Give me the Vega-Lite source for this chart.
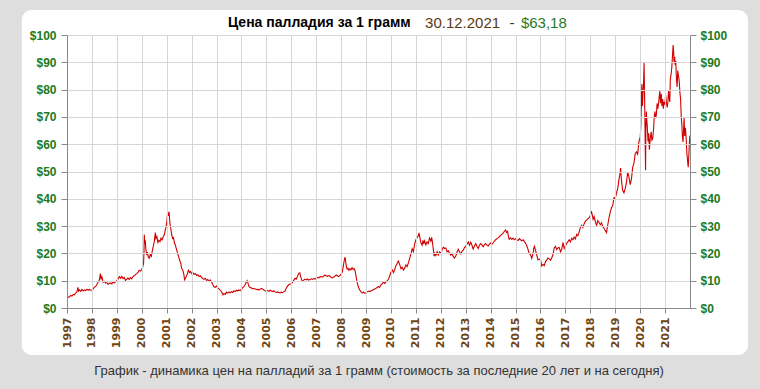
{
  "$schema": "https://vega.github.io/schema/vega-lite/v6.json",
  "width": 623,
  "height": 273,
  "autosize": {"type": "none"},
  "padding": {"left": 67, "top": 35, "right": 70, "bottom": 81},
  "background": "#dedede",
  "config": {
    "view": {"stroke": null},
    "axis": {"tickColor": "#8a8a8a", "domainColor": "#8a8a8a", "gridColor": "#d6d6d6"}
  },
  "datasets": {
    "pd": [
      {"d":"1997-01-02","v":3.6},{"d":"1997-01-20","v":3.9},{"d":"1997-02-07","v":4.1},{"d":"1997-02-25","v":4.6},{"d":"1997-03-15","v":4.4},{"d":"1997-04-02","v":5.0},{"d":"1997-04-20","v":4.8},{"d":"1997-05-08","v":5.5},{"d":"1997-05-27","v":6.0},{"d":"1997-06-10","v":7.6},{"d":"1997-06-20","v":6.2},{"d":"1997-07-02","v":6.6},{"d":"1997-07-20","v":6.1},{"d":"1997-08-08","v":6.8},{"d":"1997-08-26","v":6.3},{"d":"1997-09-13","v":6.6},{"d":"1997-10-01","v":6.4},{"d":"1997-10-20","v":6.9},{"d":"1997-11-07","v":6.5},{"d":"1997-11-25","v":6.8},{"d":"1997-12-14","v":6.5},
      {"d":"1998-01-02","v":6.6},{"d":"1998-01-20","v":7.0},{"d":"1998-02-07","v":7.6},{"d":"1998-02-25","v":7.9},{"d":"1998-03-15","v":8.6},{"d":"1998-04-02","v":9.5},{"d":"1998-04-20","v":10.2},{"d":"1998-05-05","v":12.6},{"d":"1998-05-15","v":10.5},{"d":"1998-05-27","v":11.4},{"d":"1998-06-14","v":9.4},{"d":"1998-07-02","v":9.8},{"d":"1998-07-20","v":9.1},{"d":"1998-08-08","v":9.3},{"d":"1998-08-26","v":8.7},{"d":"1998-09-13","v":9.0},{"d":"1998-10-01","v":9.2},{"d":"1998-10-20","v":8.8},{"d":"1998-11-07","v":9.5},{"d":"1998-11-25","v":9.2},{"d":"1998-12-14","v":9.6},
      {"d":"1999-01-02","v":10.0},{"d":"1999-01-20","v":10.6},{"d":"1999-02-07","v":11.5},{"d":"1999-02-25","v":10.9},{"d":"1999-03-15","v":11.6},{"d":"1999-04-02","v":10.8},{"d":"1999-04-20","v":11.2},{"d":"1999-05-08","v":10.1},{"d":"1999-05-27","v":10.6},{"d":"1999-06-14","v":11.0},{"d":"1999-07-02","v":10.4},{"d":"1999-07-20","v":11.1},{"d":"1999-08-08","v":10.7},{"d":"1999-08-26","v":11.5},{"d":"1999-09-13","v":11.8},{"d":"1999-10-01","v":12.2},{"d":"1999-10-20","v":12.6},{"d":"1999-11-07","v":13.0},{"d":"1999-11-25","v":13.8},{"d":"1999-12-14","v":13.5},
      {"d":"2000-01-02","v":14.1},{"d":"2000-01-15","v":15.0},{"d":"2000-01-28","v":16.3},{"d":"2000-02-04","v":21.0},{"d":"2000-02-08","v":26.8},{"d":"2000-02-14","v":23.5},{"d":"2000-02-22","v":24.8},{"d":"2000-03-02","v":21.5},{"d":"2000-03-14","v":19.4},{"d":"2000-03-25","v":20.5},{"d":"2000-04-05","v":18.7},{"d":"2000-04-20","v":18.2},{"d":"2000-05-05","v":19.6},{"d":"2000-05-20","v":18.9},{"d":"2000-06-05","v":21.0},{"d":"2000-06-20","v":22.8},{"d":"2000-07-05","v":24.5},{"d":"2000-07-18","v":27.6},{"d":"2000-07-28","v":25.5},{"d":"2000-08-10","v":26.2},{"d":"2000-08-25","v":24.0},{"d":"2000-09-10","v":24.8},{"d":"2000-09-25","v":24.3},{"d":"2000-10-10","v":25.6},{"d":"2000-10-25","v":24.9},{"d":"2000-11-10","v":26.0},{"d":"2000-11-25","v":26.7},{"d":"2000-12-10","v":28.4},{"d":"2000-12-22","v":29.6},
      {"d":"2001-01-05","v":32.0},{"d":"2001-01-15","v":35.3},{"d":"2001-01-25","v":34.2},{"d":"2001-02-05","v":34.8},{"d":"2001-02-18","v":31.0},{"d":"2001-03-01","v":29.2},{"d":"2001-03-15","v":27.0},{"d":"2001-03-28","v":25.5},{"d":"2001-04-10","v":25.8},{"d":"2001-04-25","v":23.8},{"d":"2001-05-08","v":23.0},{"d":"2001-05-25","v":21.5},{"d":"2001-06-10","v":20.0},{"d":"2001-06-25","v":18.8},{"d":"2001-07-10","v":17.5},{"d":"2001-07-25","v":16.5},{"d":"2001-08-08","v":14.5},{"d":"2001-08-25","v":13.8},{"d":"2001-09-10","v":12.2},{"d":"2001-09-20","v":10.3},{"d":"2001-10-01","v":10.8},{"d":"2001-10-15","v":11.5},{"d":"2001-11-01","v":12.6},{"d":"2001-11-15","v":13.8},{"d":"2001-12-01","v":13.0},{"d":"2001-12-15","v":13.4},
      {"d":"2002-01-02","v":12.6},{"d":"2002-01-20","v":12.9},{"d":"2002-02-07","v":12.3},{"d":"2002-02-25","v":12.6},{"d":"2002-03-15","v":11.9},{"d":"2002-04-02","v":12.2},{"d":"2002-04-20","v":11.5},{"d":"2002-05-08","v":11.8},{"d":"2002-05-27","v":11.2},{"d":"2002-06-14","v":10.8},{"d":"2002-07-02","v":10.5},{"d":"2002-07-20","v":10.9},{"d":"2002-08-08","v":10.1},{"d":"2002-08-26","v":10.4},{"d":"2002-09-13","v":9.8},{"d":"2002-10-01","v":10.3},{"d":"2002-10-20","v":9.5},{"d":"2002-11-07","v":8.6},{"d":"2002-11-25","v":7.8},{"d":"2002-12-14","v":7.6},
      {"d":"2003-01-02","v":8.0},{"d":"2003-01-20","v":7.4},{"d":"2003-02-07","v":7.0},{"d":"2003-02-25","v":6.5},{"d":"2003-03-15","v":6.0},{"d":"2003-04-05","v":4.8},{"d":"2003-04-20","v":5.3},{"d":"2003-05-08","v":5.0},{"d":"2003-05-27","v":5.8},{"d":"2003-06-14","v":5.4},{"d":"2003-07-02","v":5.9},{"d":"2003-07-20","v":5.6},{"d":"2003-08-08","v":6.0},{"d":"2003-08-26","v":5.7},{"d":"2003-09-13","v":6.3},{"d":"2003-10-01","v":6.0},{"d":"2003-10-20","v":6.5},{"d":"2003-11-07","v":6.2},{"d":"2003-11-25","v":6.6},{"d":"2003-12-14","v":6.4},
      {"d":"2004-01-02","v":6.8},{"d":"2004-01-20","v":7.5},{"d":"2004-02-07","v":7.8},{"d":"2004-02-25","v":8.6},{"d":"2004-03-15","v":9.5},{"d":"2004-03-25","v":10.0},{"d":"2004-04-05","v":9.2},{"d":"2004-04-20","v":8.0},{"d":"2004-05-08","v":7.5},{"d":"2004-05-27","v":7.3},{"d":"2004-06-14","v":7.0},{"d":"2004-07-02","v":7.2},{"d":"2004-07-20","v":7.0},{"d":"2004-08-08","v":6.7},{"d":"2004-08-26","v":6.9},{"d":"2004-09-13","v":6.6},{"d":"2004-10-01","v":6.9},{"d":"2004-10-20","v":7.2},{"d":"2004-11-07","v":6.9},{"d":"2004-11-25","v":6.6},{"d":"2004-12-14","v":6.3},
      {"d":"2005-01-02","v":6.2},{"d":"2005-01-20","v":6.4},{"d":"2005-02-07","v":6.1},{"d":"2005-02-25","v":6.5},{"d":"2005-03-15","v":6.2},{"d":"2005-04-02","v":6.0},{"d":"2005-04-20","v":6.3},{"d":"2005-05-08","v":5.9},{"d":"2005-05-27","v":5.7},{"d":"2005-06-14","v":5.9},{"d":"2005-07-02","v":5.7},{"d":"2005-07-20","v":5.5},{"d":"2005-08-08","v":5.8},{"d":"2005-08-26","v":5.6},{"d":"2005-09-13","v":5.9},{"d":"2005-10-01","v":6.2},{"d":"2005-10-20","v":7.2},{"d":"2005-11-07","v":8.0},{"d":"2005-11-25","v":8.5},{"d":"2005-12-14","v":8.8},
      {"d":"2006-01-02","v":8.8},{"d":"2006-01-20","v":9.5},{"d":"2006-02-07","v":10.2},{"d":"2006-02-25","v":10.9},{"d":"2006-03-15","v":10.6},{"d":"2006-04-02","v":11.6},{"d":"2006-04-20","v":12.7},{"d":"2006-05-05","v":12.9},{"d":"2006-05-20","v":11.4},{"d":"2006-06-05","v":10.2},{"d":"2006-06-14","v":9.8},{"d":"2006-07-02","v":10.2},{"d":"2006-07-20","v":10.6},{"d":"2006-08-08","v":10.3},{"d":"2006-08-26","v":10.6},{"d":"2006-09-13","v":10.2},{"d":"2006-10-01","v":10.4},{"d":"2006-10-20","v":10.7},{"d":"2006-11-07","v":10.5},{"d":"2006-11-25","v":10.8},{"d":"2006-12-14","v":10.6},
      {"d":"2007-01-02","v":10.9},{"d":"2007-01-20","v":11.2},{"d":"2007-02-07","v":11.0},{"d":"2007-02-25","v":11.4},{"d":"2007-03-15","v":11.5},{"d":"2007-04-02","v":11.3},{"d":"2007-04-20","v":11.7},{"d":"2007-05-08","v":12.1},{"d":"2007-05-27","v":11.8},{"d":"2007-06-14","v":11.6},{"d":"2007-07-02","v":11.9},{"d":"2007-07-20","v":11.7},{"d":"2007-08-08","v":11.2},{"d":"2007-08-26","v":11.0},{"d":"2007-09-13","v":11.3},{"d":"2007-10-01","v":11.6},{"d":"2007-10-20","v":12.1},{"d":"2007-11-07","v":11.8},{"d":"2007-11-25","v":11.5},{"d":"2007-12-14","v":11.9},
      {"d":"2008-01-02","v":12.4},{"d":"2008-01-15","v":13.0},{"d":"2008-01-28","v":14.5},{"d":"2008-02-10","v":16.5},{"d":"2008-02-25","v":18.6},{"d":"2008-03-05","v":17.8},{"d":"2008-03-15","v":15.5},{"d":"2008-03-28","v":14.3},{"d":"2008-04-10","v":14.6},{"d":"2008-04-25","v":13.8},{"d":"2008-05-10","v":14.4},{"d":"2008-05-25","v":14.0},{"d":"2008-06-10","v":14.8},{"d":"2008-06-25","v":14.1},{"d":"2008-07-10","v":14.4},{"d":"2008-07-25","v":13.5},{"d":"2008-08-08","v":11.5},{"d":"2008-08-26","v":9.0},{"d":"2008-09-13","v":7.5},{"d":"2008-10-01","v":6.6},{"d":"2008-10-20","v":5.9},{"d":"2008-11-07","v":5.5},{"d":"2008-11-25","v":5.9},{"d":"2008-12-14","v":5.4},
      {"d":"2009-01-02","v":5.6},{"d":"2009-01-20","v":5.9},{"d":"2009-02-07","v":6.2},{"d":"2009-02-25","v":6.0},{"d":"2009-03-15","v":6.3},{"d":"2009-04-02","v":6.5},{"d":"2009-04-20","v":6.8},{"d":"2009-05-08","v":7.0},{"d":"2009-05-27","v":7.2},{"d":"2009-06-14","v":7.6},{"d":"2009-07-02","v":7.8},{"d":"2009-07-20","v":7.6},{"d":"2009-08-08","v":8.5},{"d":"2009-08-26","v":8.9},{"d":"2009-09-13","v":9.5},{"d":"2009-10-01","v":9.0},{"d":"2009-10-20","v":9.6},{"d":"2009-11-07","v":10.0},{"d":"2009-11-25","v":10.5},{"d":"2009-12-14","v":11.8},
      {"d":"2010-01-02","v":13.3},{"d":"2010-01-20","v":13.9},{"d":"2010-02-07","v":13.0},{"d":"2010-02-25","v":14.2},{"d":"2010-03-15","v":15.5},{"d":"2010-04-02","v":16.4},{"d":"2010-04-20","v":17.2},{"d":"2010-05-08","v":16.0},{"d":"2010-05-27","v":14.4},{"d":"2010-06-14","v":14.9},{"d":"2010-07-02","v":13.9},{"d":"2010-07-20","v":14.6},{"d":"2010-08-08","v":15.8},{"d":"2010-08-26","v":15.2},{"d":"2010-09-13","v":16.5},{"d":"2010-10-01","v":18.2},{"d":"2010-10-20","v":19.8},{"d":"2010-11-07","v":21.7},{"d":"2010-11-25","v":20.6},{"d":"2010-12-14","v":23.5},
      {"d":"2011-01-02","v":25.0},{"d":"2011-01-20","v":25.9},{"d":"2011-02-07","v":26.5},{"d":"2011-02-15","v":27.5},{"d":"2011-02-25","v":26.2},{"d":"2011-03-15","v":24.0},{"d":"2011-04-02","v":23.0},{"d":"2011-04-15","v":24.8},{"d":"2011-04-25","v":23.5},{"d":"2011-05-08","v":24.6},{"d":"2011-05-27","v":23.1},{"d":"2011-06-14","v":24.2},{"d":"2011-07-02","v":23.6},{"d":"2011-07-20","v":25.6},{"d":"2011-08-08","v":24.5},{"d":"2011-08-20","v":25.9},{"d":"2011-09-01","v":24.0},{"d":"2011-09-13","v":21.5},{"d":"2011-09-25","v":19.0},{"d":"2011-10-05","v":20.0},{"d":"2011-10-20","v":19.2},{"d":"2011-11-07","v":20.6},{"d":"2011-11-25","v":19.4},{"d":"2011-12-14","v":20.5},
      {"d":"2012-01-02","v":20.0},{"d":"2012-01-20","v":21.3},{"d":"2012-02-07","v":22.3},{"d":"2012-02-25","v":21.8},{"d":"2012-03-15","v":22.0},{"d":"2012-04-02","v":20.6},{"d":"2012-04-20","v":21.0},{"d":"2012-05-08","v":20.1},{"d":"2012-05-27","v":19.3},{"d":"2012-06-14","v":20.0},{"d":"2012-07-02","v":18.9},{"d":"2012-07-20","v":18.3},{"d":"2012-08-08","v":19.0},{"d":"2012-08-26","v":20.5},{"d":"2012-09-13","v":21.5},{"d":"2012-10-01","v":20.6},{"d":"2012-10-20","v":19.8},{"d":"2012-11-07","v":20.8},{"d":"2012-11-25","v":21.2},{"d":"2012-12-14","v":22.2},
      {"d":"2013-01-02","v":22.5},{"d":"2013-01-20","v":23.5},{"d":"2013-02-07","v":24.2},{"d":"2013-02-25","v":23.0},{"d":"2013-03-15","v":24.1},{"d":"2013-04-02","v":23.0},{"d":"2013-04-20","v":21.6},{"d":"2013-05-08","v":22.7},{"d":"2013-05-27","v":23.6},{"d":"2013-06-14","v":22.5},{"d":"2013-07-02","v":21.8},{"d":"2013-07-20","v":23.0},{"d":"2013-08-08","v":23.6},{"d":"2013-08-26","v":23.1},{"d":"2013-09-13","v":22.4},{"d":"2013-10-01","v":23.1},{"d":"2013-10-20","v":23.6},{"d":"2013-11-07","v":23.0},{"d":"2013-11-25","v":22.7},{"d":"2013-12-14","v":23.4},
      {"d":"2014-01-02","v":23.8},{"d":"2014-01-20","v":23.4},{"d":"2014-02-07","v":23.9},{"d":"2014-02-25","v":24.5},{"d":"2014-03-15","v":25.0},{"d":"2014-04-02","v":25.4},{"d":"2014-04-20","v":25.7},{"d":"2014-05-08","v":26.1},{"d":"2014-05-27","v":26.6},{"d":"2014-06-14","v":27.0},{"d":"2014-07-02","v":27.4},{"d":"2014-07-20","v":28.1},{"d":"2014-08-08","v":28.6},{"d":"2014-08-20","v":27.7},{"d":"2014-09-05","v":28.1},{"d":"2014-09-20","v":26.0},{"d":"2014-10-01","v":25.2},{"d":"2014-10-20","v":25.7},{"d":"2014-11-07","v":25.1},{"d":"2014-11-25","v":25.6},{"d":"2014-12-14","v":25.0},
      {"d":"2015-01-02","v":25.4},{"d":"2015-01-20","v":25.0},{"d":"2015-02-07","v":24.7},{"d":"2015-02-25","v":25.4},{"d":"2015-03-15","v":25.0},{"d":"2015-04-02","v":24.6},{"d":"2015-04-20","v":25.0},{"d":"2015-05-08","v":24.4},{"d":"2015-05-27","v":23.7},{"d":"2015-06-14","v":22.8},{"d":"2015-07-02","v":21.5},{"d":"2015-07-20","v":20.0},{"d":"2015-08-08","v":19.6},{"d":"2015-08-26","v":18.2},{"d":"2015-09-13","v":19.8},{"d":"2015-09-25","v":22.0},{"d":"2015-10-05","v":22.6},{"d":"2015-10-20","v":21.0},{"d":"2015-11-07","v":19.5},{"d":"2015-11-25","v":17.6},{"d":"2015-12-14","v":17.9},
      {"d":"2016-01-02","v":17.6},{"d":"2016-01-20","v":15.4},{"d":"2016-02-07","v":16.0},{"d":"2016-02-25","v":15.5},{"d":"2016-03-15","v":17.0},{"d":"2016-04-02","v":17.6},{"d":"2016-04-20","v":18.3},{"d":"2016-05-08","v":18.0},{"d":"2016-05-27","v":17.5},{"d":"2016-06-14","v":18.4},{"d":"2016-07-02","v":19.5},{"d":"2016-07-20","v":22.0},{"d":"2016-08-08","v":22.6},{"d":"2016-08-26","v":21.4},{"d":"2016-09-13","v":22.0},{"d":"2016-10-01","v":22.2},{"d":"2016-10-20","v":20.6},{"d":"2016-11-07","v":21.5},{"d":"2016-11-25","v":24.0},{"d":"2016-12-14","v":21.8},
      {"d":"2017-01-02","v":22.8},{"d":"2017-01-20","v":23.8},{"d":"2017-02-07","v":24.3},{"d":"2017-02-25","v":25.0},{"d":"2017-03-15","v":24.2},{"d":"2017-04-02","v":25.5},{"d":"2017-04-20","v":25.0},{"d":"2017-05-08","v":26.0},{"d":"2017-05-27","v":25.3},{"d":"2017-06-14","v":27.0},{"d":"2017-07-02","v":26.5},{"d":"2017-07-20","v":27.8},{"d":"2017-08-08","v":29.5},{"d":"2017-08-26","v":30.3},{"d":"2017-09-13","v":29.5},{"d":"2017-10-01","v":30.8},{"d":"2017-10-20","v":31.8},{"d":"2017-11-07","v":32.2},{"d":"2017-11-25","v":32.7},{"d":"2017-12-14","v":33.0},
      {"d":"2018-01-02","v":34.0},{"d":"2018-01-15","v":35.5},{"d":"2018-01-28","v":34.2},{"d":"2018-02-10","v":32.5},{"d":"2018-02-25","v":33.5},{"d":"2018-03-15","v":31.6},{"d":"2018-04-02","v":30.2},{"d":"2018-04-20","v":32.0},{"d":"2018-05-08","v":31.3},{"d":"2018-05-27","v":30.5},{"d":"2018-06-14","v":31.2},{"d":"2018-07-02","v":29.8},{"d":"2018-07-20","v":29.2},{"d":"2018-08-08","v":28.4},{"d":"2018-08-26","v":27.6},{"d":"2018-09-13","v":30.5},{"d":"2018-10-01","v":33.0},{"d":"2018-10-20","v":35.2},{"d":"2018-11-07","v":36.8},{"d":"2018-11-25","v":37.5},{"d":"2018-12-14","v":40.5},
      {"d":"2019-01-02","v":40.3},{"d":"2019-01-20","v":42.2},{"d":"2019-02-07","v":44.0},{"d":"2019-02-25","v":47.3},{"d":"2019-03-10","v":49.0},{"d":"2019-03-20","v":51.3},{"d":"2019-04-02","v":46.5},{"d":"2019-04-20","v":43.0},{"d":"2019-05-08","v":42.2},{"d":"2019-05-27","v":43.8},{"d":"2019-06-14","v":46.0},{"d":"2019-07-02","v":49.8},{"d":"2019-07-20","v":48.0},{"d":"2019-08-08","v":45.2},{"d":"2019-08-26","v":47.3},{"d":"2019-09-13","v":51.5},{"d":"2019-10-01","v":53.0},{"d":"2019-10-20","v":56.5},{"d":"2019-11-07","v":57.2},{"d":"2019-11-25","v":56.3},{"d":"2019-12-14","v":61.0},
      {"d":"2020-01-02","v":62.6},{"d":"2020-01-10","v":66.5},{"d":"2020-01-20","v":77.0},{"d":"2020-01-25","v":82.0},{"d":"2020-02-03","v":74.0},{"d":"2020-02-10","v":78.0},{"d":"2020-02-20","v":83.0},{"d":"2020-02-27","v":89.7},{"d":"2020-03-04","v":80.0},{"d":"2020-03-10","v":69.0},{"d":"2020-03-16","v":57.0},{"d":"2020-03-20","v":50.5},{"d":"2020-03-24","v":65.0},{"d":"2020-03-31","v":72.0},{"d":"2020-04-07","v":69.0},{"d":"2020-04-15","v":66.0},{"d":"2020-04-25","v":61.0},{"d":"2020-05-05","v":64.0},{"d":"2020-05-15","v":58.0},{"d":"2020-05-27","v":62.0},{"d":"2020-06-10","v":64.5},{"d":"2020-06-20","v":61.5},{"d":"2020-07-02","v":62.0},{"d":"2020-07-15","v":65.5},{"d":"2020-07-25","v":70.0},{"d":"2020-08-05","v":72.0},{"d":"2020-08-15","v":69.5},{"d":"2020-08-26","v":71.0},{"d":"2020-09-05","v":75.0},{"d":"2020-09-15","v":73.0},{"d":"2020-09-25","v":74.5},{"d":"2020-10-05","v":77.2},{"d":"2020-10-15","v":79.5},{"d":"2020-10-25","v":75.0},{"d":"2020-11-05","v":78.5},{"d":"2020-11-15","v":74.0},{"d":"2020-11-25","v":76.5},{"d":"2020-12-05","v":73.0},{"d":"2020-12-15","v":75.5},{"d":"2020-12-28","v":74.5},
      {"d":"2021-01-08","v":78.0},{"d":"2021-01-20","v":75.0},{"d":"2021-02-01","v":73.5},{"d":"2021-02-10","v":75.5},{"d":"2021-02-20","v":79.5},{"d":"2021-03-01","v":77.0},{"d":"2021-03-10","v":75.5},{"d":"2021-03-18","v":84.0},{"d":"2021-03-28","v":85.5},{"d":"2021-04-08","v":88.0},{"d":"2021-04-20","v":93.0},{"d":"2021-04-28","v":96.3},{"d":"2021-05-05","v":94.0},{"d":"2021-05-12","v":89.7},{"d":"2021-05-20","v":92.0},{"d":"2021-05-28","v":89.0},{"d":"2021-06-05","v":90.5},{"d":"2021-06-15","v":84.0},{"d":"2021-06-25","v":81.0},{"d":"2021-07-05","v":87.0},{"d":"2021-07-15","v":85.0},{"d":"2021-07-25","v":83.5},{"d":"2021-08-05","v":79.0},{"d":"2021-08-15","v":76.5},{"d":"2021-08-25","v":70.0},{"d":"2021-09-03","v":67.0},{"d":"2021-09-10","v":63.0},{"d":"2021-09-20","v":60.8},{"d":"2021-09-28","v":65.0},{"d":"2021-10-05","v":69.6},{"d":"2021-10-15","v":63.0},{"d":"2021-10-25","v":66.0},{"d":"2021-11-05","v":62.0},{"d":"2021-11-15","v":56.8},{"d":"2021-11-25","v":54.0},{"d":"2021-12-05","v":51.6},{"d":"2021-12-15","v":56.5},{"d":"2021-12-22","v":60.4},{"d":"2021-12-30","v":63.18}
    ]
  },
  "layer": [
    {
      "data": {"name": "pd"},
      "layer": [
        {
          "mark": {"type": "rect", "fill": "#ffffff", "cornerRadius": 10, "zindex": 0},
          "transform": [{"filter": "datum.v == 63.18"}],
          "encoding": {
            "x": {"datum": {"year": 1995, "month": 3, "date": 10}, "type": "temporal", "scale": {"domain": [{"year": 1997, "month": 1, "date": 1}, {"year": 2021, "month": 12, "date": 31}]},
              "axis": {"zindex": 1, "tickCount": {"interval": "year", "step": 1}, "format": "%Y", "labelAngle": -90, "labelAlign": "right", "labelBaseline": "middle", "labelFlush": false, "labelOverlap": false, "labelBound": false, "labelFont": "DejaVu Sans", "labelFontSize": 11, "labelFontWeight": "bold", "labelColor": "#6e4514", "labelPadding": 4, "tickSize": 5, "grid": true, "title": "График - динамика цен на палладий за 1 грамм (стоимость за последние 20 лет и на сегодня)", "titleFont": "Liberation Sans", "titleFontSize": 13, "titleFontWeight": "normal", "titleColor": "#333333", "titlePadding": 17}},
            "x2": {"datum": {"year": 2024, "month": 4, "date": 30}},
            "y": {"datum": 109.2, "type": "quantitative", "scale": {"domain": [0, 100], "nice": false}, "axis": null},
            "y2": {"datum": -17.2}
          }
        },
        {
          "mark": {"type": "rect", "fill": "#ffffff", "zindex": 2},
          "transform": [{"filter": "datum.v == 63.18"}],
          "encoding": {
            "x": {"datum": {"year": 2011, "month": 1, "date": 30}, "type": "temporal"},
            "x2": {"datum": {"year": 2021, "month": 12, "date": 1}},
            "y": {"datum": 10.9, "type": "quantitative", "axis": null},
            "y2": {"datum": 0.4}
          }
        },
        {
          "mark": {"type": "line", "color": "#d00000", "strokeWidth": 1.1, "zindex": 3},
          "encoding": {
            "x": {"field": "d", "type": "temporal"},
            "y": {"field": "v", "type": "quantitative", "axis": null}
          }
        },
        {
          "mark": {"type": "text", "align": "left", "baseline": "middle", "font": "Liberation Sans", "fontSize": 14, "fontWeight": "bold", "color": "#000000", "text": "Цена палладия за 1 грамм"},
          "transform": [{"filter": "datum.v == 63.18"}],
          "encoding": {
            "x": {"datum": {"year": 2003, "month": 6, "date": 18}, "type": "temporal"},
            "y": {"datum": 104.5, "type": "quantitative", "axis": null}
          }
        },
        {
          "mark": {"type": "text", "align": "left", "baseline": "middle", "font": "Liberation Sans", "fontSize": 15, "color": "#5a3a10", "text": "30.12.2021"},
          "transform": [{"filter": "datum.v == 63.18"}],
          "encoding": {
            "x": {"datum": {"year": 2011, "month": 5, "date": 15}, "type": "temporal"},
            "y": {"datum": 104.5, "type": "quantitative", "axis": null}
          }
        },
        {
          "mark": {"type": "text", "align": "center", "baseline": "middle", "font": "Liberation Sans", "fontSize": 15, "color": "#333333", "text": "-"},
          "transform": [{"filter": "datum.v == 63.18"}],
          "encoding": {
            "x": {"datum": {"year": 2014, "month": 11, "date": 10}, "type": "temporal"},
            "y": {"datum": 104.5, "type": "quantitative", "axis": null}
          }
        },
        {
          "mark": {"type": "text", "align": "left", "baseline": "middle", "font": "Liberation Sans", "fontSize": 15, "color": "#1f7a1f", "text": "$63,18"},
          "transform": [{"filter": "datum.v == 63.18"}],
          "encoding": {
            "x": {"datum": {"year": 2015, "month": 3, "date": 20}, "type": "temporal"},
            "y": {"datum": 104.5, "type": "quantitative", "axis": null}
          }
        }
      ]
    },
    {
      "data": {"name": "pd"},
      "mark": {"type": "line", "opacity": 0},
      "encoding": {
        "x": {"field": "d", "type": "temporal"},
        "y": {
          "field": "v", "type": "quantitative",
          "scale": {"domain": [0, 100], "nice": false},
          "axis": {"zindex": 1, "orient": "left", "values": [0, 10, 20, 30, 40, 50, 60, 70, 80, 90, 100], "labelOverlap": false, "labelExpr": "'$' + datum.label", "labelFont": "Liberation Sans", "labelFontSize": 12, "labelFontWeight": "bold", "labelColor": "#217a21", "labelPadding": 5, "tickSize": 6, "grid": true, "title": null}
        }
      }
    },
    {
      "data": {"name": "pd"},
      "mark": {"type": "line", "opacity": 0},
      "encoding": {
        "x": {"field": "d", "type": "temporal"},
        "y": {
          "field": "v", "type": "quantitative",
          "scale": {"domain": [0, 100], "nice": false},
          "axis": {"zindex": 1, "orient": "right", "values": [0, 10, 20, 30, 40, 50, 60, 70, 80, 90, 100], "labelOverlap": false, "labelExpr": "'$' + datum.label", "labelFont": "Liberation Sans", "labelFontSize": 12, "labelFontWeight": "bold", "labelColor": "#217a21", "labelPadding": 4, "tickSize": 6, "grid": false, "title": null}
        }
      }
    }
  ],
  "resolve": {"scale": {"y": "independent"}}
}
